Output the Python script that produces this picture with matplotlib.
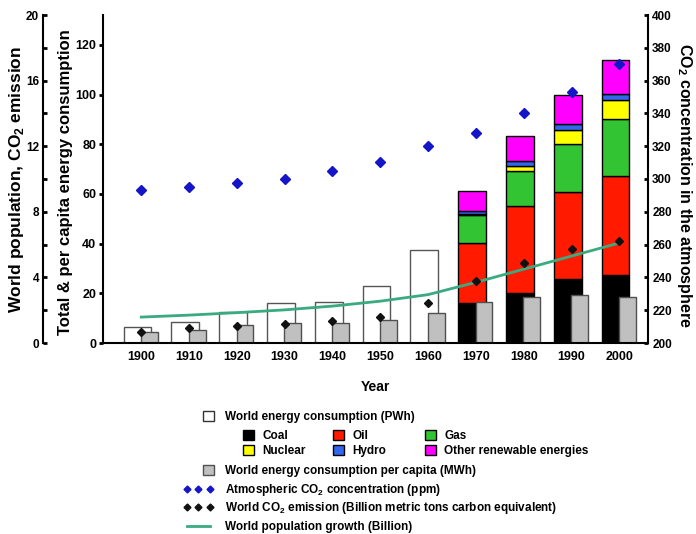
import numpy as np
import matplotlib

matplotlib.use("Agg")
import matplotlib.pyplot as plt
from matplotlib import font_manager
from matplotlib.lines import Line2D
from matplotlib.patches import Patch

WIDE = ["Liberation Sans", "DejaVu Sans"]
# tick labels in the reference look condensed; use the narrow face when it is there
has_narrow = "Liberation Sans Narrow" in {f.name for f in font_manager.fontManager.ttflist}
TICKS = ["Liberation Sans Narrow"] + WIDE if has_narrow else WIDE
tick_scale = 1.2 if has_narrow else 1.0

plt.rcParams["font.family"] = TICKS
plt.rcParams["font.weight"] = "bold"
plt.rcParams["mathtext.fontset"] = "custom"
plt.rcParams["mathtext.rm"] = "Liberation Sans:bold"
plt.rcParams["mathtext.bf"] = "Liberation Sans:bold"

# ---- data ----
years = ["1900", "1910", "1920", "1930", "1940", "1950", "1960", "1970", "1980", "1990", "2000"]
total_energy = [6.4, 8.4, 12.5, 16.0, 16.7, 23.0, 37.5]  # PWh, 1900-1960
coal = [16.0, 20.3, 25.7, 27.4]  # 1970-2000
oil = [24.4, 34.9, 34.9, 39.9]
gas = [11.2, 14.2, 19.5, 22.9]
nuclear = [0.2, 2.0, 5.8, 7.4]
hydro = [1.5, 1.7, 2.3, 2.7]
other = [8.0, 10.4, 11.5, 13.4]
per_capita = [4.4, 5.2, 7.3, 8.0, 8.0, 9.3, 12.0, 16.5, 18.5, 19.4, 18.5]  # MWh
co2_ppm = [293.3, 295.3, 297.4, 299.8, 305.0, 310.2, 320.3, 328.2, 340.0, 353.2, 370.0]
co2_emission = [0.65, 0.93, 1.06, 1.16, 1.34, 1.6, 2.42, 3.8, 4.9, 5.75, 6.22]
population = [1.58, 1.7, 1.85, 2.02, 2.25, 2.55, 2.95, 3.7, 4.5, 5.3, 6.1]

mix_names = ["Coal", "Oil", "Gas", "Nuclear", "Hydro", "Other renewable energies"]
mix_values = [coal, oil, gas, nuclear, hydro, other]
mix_colors = ["#000000", "#ff1a00", "#33c433", "#ffff00", "#3366ee", "#ff00ff"]

GREEN = "#3aaa80"
BLUE = "#1515c8"
W, H = 696, 534

x = np.arange(len(years))
n_old = len(total_energy)
x_old = x[:n_old]
x_mix = x[n_old:]

fig = plt.figure(figsize=(W / 100, H / 100), dpi=100)
ax = fig.add_axes([103 / W, 1 - 343 / H, 545 / W, 328 / H])

# energy bars
ax.bar(x_old - 0.08, total_energy, width=0.58, color="white", edgecolor="#555555", linewidth=1)
bottom = np.zeros(len(x_mix))
for vals, col in zip(mix_values, mix_colors):
    ax.bar(x_mix - 0.08, vals, width=0.58, bottom=bottom, color=col, edgecolor="black", linewidth=1)
    bottom += np.array(vals)
ax.bar(x + 0.17, per_capita, width=0.35, color="#c0c0c0", edgecolor="#505050", linewidth=1)

ax.set_xlim(-0.8, 10.6)
ax.set_ylim(0, 132)
ax.set_yticks(np.arange(0, 121, 20))
ax.set_xticks(x)
ax.set_xticklabels(years)
ax.tick_params(axis="x", length=0, pad=6, labelsize=9 * tick_scale)
ax.tick_params(axis="y", direction="out", length=3, width=2, labelsize=9 * tick_scale, pad=2)
for side in ("top", "right"):
    ax.spines[side].set_visible(False)
for side in ("left", "bottom"):
    ax.spines[side].set_linewidth(1.5)
ax.set_xlabel("Year", fontsize=10, fontweight="bold", family=WIDE, labelpad=12)
ax.set_ylabel("Total & per capita energy consumption", fontsize=12, fontweight="bold", family=WIDE)
ax.yaxis.set_label_coords(-0.055, 0.49)

# CO2 concentration axis (right)
ax_ppm = ax.twinx()
ax_ppm.plot(x, co2_ppm, linestyle="none", marker="D", markersize=5, color=BLUE)
ax_ppm.set_ylim(200, 400)
ax_ppm.set_yticks(np.arange(200, 401, 20))
ax_ppm.tick_params(axis="y", direction="in", length=3, width=2, labelsize=8.5 * tick_scale, pad=3)
for side in ("top", "left", "bottom"):
    ax_ppm.spines[side].set_visible(False)
ax_ppm.spines["right"].set_linewidth(1.5)
ax_ppm.set_ylabel("CO$_2$ concentration in the atmosphere", fontsize=11.5, fontweight="bold",
                  family=WIDE, rotation=270, va="bottom")
ax_ppm.yaxis.set_label_coords(1.050, 0.48)

# population / emission axis (outer left)
ax_pop = ax.twinx()
ax_pop.plot(x, population, color=GREEN, linewidth=2)
ax_pop.plot(x, co2_emission, linestyle="none", marker="D", markersize=4, color="#111111")
ax_pop.set_ylim(0, 20)
ax_pop.yaxis.set_ticks_position("left")
ax_pop.yaxis.set_label_position("left")
ax_pop.spines["left"].set_position(("axes", -0.11))
ax_pop.spines["left"].set_visible(True)
ax_pop.spines["left"].set_linewidth(1.5)
for side in ("top", "right", "bottom"):
    ax_pop.spines[side].set_visible(False)
ax_pop.set_yticks(np.arange(0, 21, 4))
ax_pop.set_yticks(np.arange(2, 20, 4), minor=True)
ax_pop.tick_params(axis="y", which="both", direction="in", length=3, width=2,
                   labelsize=8.5 * tick_scale, pad=3)
ax_pop.set_ylabel("World population, CO$_2$ emission", fontsize=12.5, fontweight="bold", family=WIDE)
ax_pop.yaxis.set_label_coords(-0.141, 0.5)

# legend, one small legend per entry
def square(col, edge="black"):
    return Patch(facecolor=col, edgecolor=edge, linewidth=1)

entries = [
    (square("white", "#333333"), "World energy consumption (PWh)", 203, 417, "sq", 0.95),
    (square(mix_colors[0]), "Coal", 243, 436, "sq", 0.7),
    (square(mix_colors[3]), "Nuclear", 243, 451, "sq", 0.7),
    (square(mix_colors[1]), "Oil", 333, 436, "sq", 0.7),
    (square(mix_colors[4]), "Hydro", 333, 451, "sq", 0.7),
    (square(mix_colors[2]), "Gas", 425, 436, "sq", 0.7),
    (square(mix_colors[5]), "Other renewable energies", 425, 451, "sq", 0.7),
    (square("#c0c0c0", "#505050"), "World energy consumption per capita (MWh)", 203, 471, "sq", 0.95),
    (Line2D([], [], linestyle="none", marker="D", markersize=3.5, color=BLUE),
     "Atmospheric CO$_2$ concentration (ppm)", 183, 490, "ln", 1.0),
    (Line2D([], [], linestyle="none", marker="D", markersize=3.5, color="#111111"),
     "World CO$_2$ emission (Billion metric tons carbon equivalent)", 183, 508, "ln", 1.0),
    (Line2D([], [], color=GREEN, linewidth=2),
     "World population growth (Billion)", 183, 527, "ln", 1.0),
]
for handle, label, hx, hy, kind, pad in entries:
    if kind == "sq":
        hl, hh = 0.95, 0.95
    else:
        hl, hh = 2.55, 0.7
    fig.legend([handle], [label], loc="center left", bbox_to_anchor=(hx / W, 1 - hy / H),
               frameon=False, borderpad=0, borderaxespad=0, handlelength=hl, handleheight=hh,
               handletextpad=pad, numpoints=3, prop={"family": WIDE, "weight": "bold", "size": 8.5})

fig.savefig("out.png", dpi=100)
